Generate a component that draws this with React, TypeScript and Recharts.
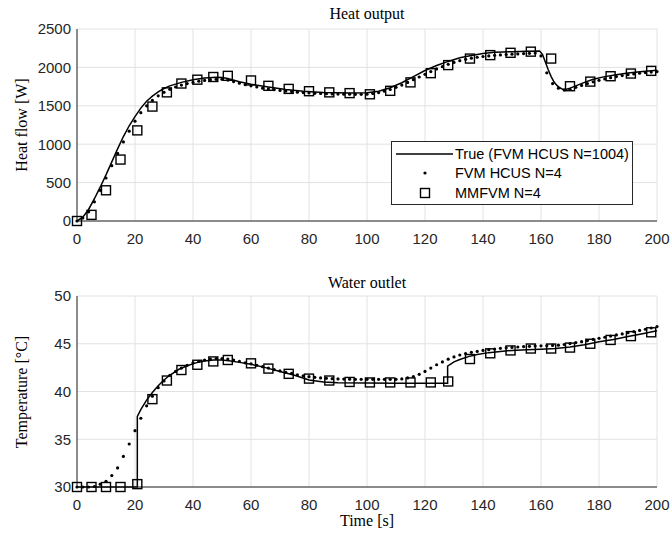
import React from "react";
import { ComposedChart, Line, Scatter, XAxis, YAxis, CartesianGrid } from "recharts";

const timeTicks = [0, 20, 40, 60, 80, 100, 120, 140, 160, 180, 200];
const heatTicks = [0, 500, 1000, 1500, 2000, 2500];
const tempTicks = [30, 35, 40, 45, 50];

// reference solution (FVM HCUS N=1004)
const trueHeatT = [0, 2, 4, 6, 8, 10, 12, 14, 16, 18, 20, 22, 24, 26, 28, 30, 32, 36, 40, 44, 48, 50, 52, 56, 60, 66, 72, 78, 85, 94, 100, 104, 108, 112, 116, 120, 124, 128, 132, 136, 140, 144, 150, 155, 159.5, 160.5, 161.5, 162.5, 163.5, 164.5, 165.5, 166.5, 167.5, 168.5, 170, 172, 175, 178, 182, 186, 190, 195, 200];
const trueHeatV = [0, 50, 150, 290, 440, 600, 770, 940, 1100, 1240, 1360, 1470, 1560, 1625, 1680, 1725, 1760, 1805, 1840, 1862, 1872, 1868, 1855, 1812, 1780, 1745, 1712, 1688, 1672, 1666, 1670, 1690, 1735, 1800, 1880, 1960, 2025, 2078, 2125, 2155, 2180, 2196, 2205, 2210, 2214, 2170, 2070, 1970, 1880, 1810, 1765, 1735, 1715, 1712, 1730, 1760, 1805, 1845, 1880, 1905, 1928, 1948, 1962];

const trueTempT = [0, 20.8, 20.8, 22, 24, 26, 28, 30, 32, 35, 38, 41, 44, 47, 50, 53, 56, 60, 65, 70, 75, 80, 85, 90, 100, 110, 127.8, 127.8, 130, 132, 135, 138, 142, 146, 150, 155, 160, 165, 170, 175, 180, 185, 190, 195, 200];
const trueTempV = [30, 30, 37.4, 38.1, 39.1, 39.9, 40.6, 41.2, 41.7, 42.3, 42.7, 43.0, 43.2, 43.3, 43.3, 43.2, 43.05, 42.85, 42.5, 42.1, 41.7, 41.2, 41.0, 40.92, 40.88, 40.87, 40.87, 42.65, 43.1, 43.35, 43.65, 43.88, 44.07, 44.2, 44.3, 44.38, 44.43, 44.5, 44.65, 44.9, 45.2, 45.45, 45.75, 46.05, 46.35];

// FVM HCUS N=4 (dotted)
const fvmT = [0, 2, 4, 6, 8, 10, 12, 14, 16, 18, 20, 22, 24, 26, 28, 30, 32, 34, 36, 38, 40, 42, 44, 46, 48, 50, 52, 54, 56, 58, 60, 62, 64, 66, 68, 70, 72, 74, 76, 78, 80, 82, 84, 86, 88, 90, 92, 94, 96, 98, 100, 102, 104, 106, 108, 110, 112, 114, 116, 118, 120, 122, 124, 126, 128, 130, 132, 134, 136, 138, 140, 142, 144, 146, 148, 150, 152, 154, 156, 158, 160, 162, 164, 166, 168, 170, 172, 174, 176, 178, 180, 182, 184, 186, 188, 190, 192, 194, 196, 198, 200];
const fvmHeat = [0, 40, 120, 250, 400, 560, 720, 880, 1030, 1170, 1300, 1410, 1500, 1570, 1630, 1675, 1715, 1745, 1770, 1790, 1805, 1820, 1830, 1840, 1845, 1845, 1835, 1815, 1795, 1775, 1760, 1745, 1730, 1720, 1710, 1700, 1692, 1685, 1678, 1672, 1667, 1663, 1660, 1657, 1655, 1653, 1652, 1651, 1650, 1650, 1652, 1660, 1672, 1690, 1712, 1740, 1770, 1805, 1840, 1875, 1910, 1945, 1980, 2010, 2040, 2065, 2088, 2105, 2120, 2132, 2142, 2150, 2157, 2163, 2168, 2172, 2176, 2180, 2183, 2186, 2150, 1930, 1790, 1730, 1705, 1715, 1740, 1765, 1790, 1812, 1832, 1850, 1866, 1880, 1893, 1905, 1915, 1924, 1932, 1939, 1945];
const fvmTemp = [30, 30, 30, 30.05, 30.3, 30.6, 31.2, 32.0, 33.2, 34.5, 35.9, 37.2, 38.5, 39.5, 40.4, 41.1, 41.7, 42.1, 42.45, 42.75, 43.0, 43.15, 43.3, 43.4, 43.45, 43.45, 43.4, 43.3, 43.15, 43.0, 42.9, 42.75, 42.6, 42.45, 42.3, 42.15, 42.0, 41.9, 41.75, 41.65, 41.55, 41.48, 41.42, 41.38, 41.34, 41.32, 41.3, 41.29, 41.28, 41.28, 41.28, 41.27, 41.27, 41.27, 41.27, 41.28, 41.32, 41.42, 41.56, 41.8, 42.1, 42.45, 42.8, 43.1, 43.38, 43.62, 43.82, 43.98, 44.1, 44.2, 44.3, 44.38, 44.45, 44.52, 44.57, 44.62, 44.66, 44.7, 44.73, 44.76, 44.78, 44.8, 44.82, 44.85, 44.92, 45.02, 45.12, 45.22, 45.33, 45.45, 45.57, 45.68, 45.8, 45.92, 46.03, 46.15, 46.27, 46.4, 46.52, 46.65, 46.8];

// MMFVM N=4 (squares)
const mmT = [0, 5, 10, 15, 20.8, 26, 31, 36, 41.5, 47, 52, 60, 66, 73, 80, 87, 94, 101, 108, 115, 122, 128, 135.5, 142.5, 149.5, 156.5, 163.5, 170, 177, 184, 191, 198];
const mmHeat = [0, 80, 400, 800, 1180, 1490, 1675, 1790, 1840, 1875, 1890, 1830, 1760, 1720, 1690, 1675, 1665, 1650, 1695, 1805, 1925, 2030, 2115, 2160, 2190, 2205, 2115, 1755, 1815, 1885, 1920, 1955];
const mmTemp = [30, 30, 30, 30, 30.3, 39.2, 41.15, 42.25, 42.8, 43.15, 43.3, 42.95, 42.4, 41.85, 41.35, 41.15, 41.0, 40.95, 40.95, 40.95, 40.95, 41.05, 43.4, 44.0, 44.3, 44.5, 44.5, 44.6, 45.0, 45.4, 45.8, 46.2];

const zip = (ts: number[], vs: number[]) => ts.map((t, i) => ({ t, v: vs[i] }));

const AXIS = "#262626";
const GRID = "#e2e2e2";
const tickFont = { fontSize: 15, fill: AXIS, fontFamily: "Liberation Sans, Arial, sans-serif" };
const serif = "Liberation Serif, Times New Roman, serif";

const Dot = (p: any) => <circle cx={p.cx} cy={p.cy} r={1.6} fill="#000" />;
const Square = (p: any) => (
  <rect x={p.cx - 4.5} y={p.cy - 4.5} width={9} height={9} fill="none" stroke="#000" strokeWidth={1.4} />
);

function Panel({
  height,
  top,
  bottom,
  domain,
  yTicks,
  line,
  dots,
  squares,
}: {
  height: number;
  top: number;
  bottom: number;
  domain: [number, number];
  yTicks: number[];
  line: { t: number; v: number }[];
  dots: { t: number; v: number }[];
  squares: { t: number; v: number }[];
}) {
  return (
    <ComposedChart width={670} height={height} margin={{ top, right: 13, bottom, left: 17 }}>
      <CartesianGrid stroke={GRID} strokeWidth={1} />
      <XAxis
        dataKey="t"
        type="number"
        domain={[0, 200]}
        ticks={timeTicks}
        height={30}
        tick={tickFont}
        tickLine={false}
        tickSize={6}
        tickMargin={6}
        axisLine={{ stroke: AXIS }}
      />
      <XAxis xAxisId="bm" type="number" domain={[0, 200]} ticks={timeTicks} mirror height={0} tick={false} tickSize={5} tickLine={{ stroke: AXIS }} axisLine={false} />
      <XAxis xAxisId="tm" orientation="top" type="number" domain={[0, 200]} ticks={timeTicks} mirror height={0} tick={false} tickSize={5} tickLine={{ stroke: AXIS }} axisLine={{ stroke: AXIS }} />
      <YAxis
        dataKey="v"
        type="number"
        domain={domain}
        ticks={yTicks}
        width={60}
        tick={tickFont}
        tickLine={false}
        tickSize={3}
        tickMargin={3}
        axisLine={{ stroke: AXIS }}
      />
      <YAxis yAxisId="lm" type="number" domain={domain} ticks={yTicks} mirror width={0} tick={false} tickSize={5} tickLine={{ stroke: AXIS }} axisLine={false} />
      <YAxis yAxisId="rm" orientation="right" type="number" domain={domain} ticks={yTicks} mirror width={0} tick={false} tickSize={5} tickLine={{ stroke: AXIS }} axisLine={{ stroke: AXIS }} />
      <Scatter data={squares} dataKey="v" shape={Square} isAnimationActive={false} />
      <Scatter data={dots} dataKey="v" shape={Dot} isAnimationActive={false} />
      <Line data={line} dataKey="v" type="linear" stroke="#000" strokeWidth={1.5} dot={false} activeDot={false} isAnimationActive={false} />
    </ComposedChart>
  );
}

const textStyle: React.CSSProperties = {
  position: "absolute",
  fontFamily: serif,
  fontSize: 16,
  color: "#000",
  whiteSpace: "nowrap",
  transform: "translate(-50%, -50%)",
  lineHeight: 1,
};

export default function App() {
  return (
    <div style={{ position: "absolute", left: 0, top: 0, width: 670, height: 537, background: "#fff" }}>
      <div style={{ position: "absolute", left: 0, top: 0 }}>
        <Panel height={260} top={29} bottom={9} domain={[0, 2500]} yTicks={heatTicks} line={zip(trueHeatT, trueHeatV)} dots={zip(fvmT, fvmHeat)} squares={zip(mmT, mmHeat)} />
      </div>
      <div style={{ position: "absolute", left: 0, top: 260 }}>
        <Panel height={277} top={36} bottom={20} domain={[30, 50]} yTicks={tempTicks} line={zip(trueTempT, trueTempV)} dots={zip(fvmT, fvmTemp)} squares={zip(mmT, mmTemp)} />
      </div>
      <div style={{ ...textStyle, left: 367, top: 14 }}>Heat output</div>
      <div style={{ ...textStyle, left: 367, top: 283 }}>Water outlet</div>
      <div style={{ ...textStyle, left: 367, top: 521 }}>Time [s]</div>
      <div style={{ ...textStyle, left: 22, top: 125, transform: "translate(-50%, -50%) rotate(-90deg)" }}>Heat flow [W]</div>
      <div style={{ ...textStyle, left: 22, top: 392, transform: "translate(-50%, -50%) rotate(-90deg)" }}>Temperature [°C]</div>
      <svg style={{ position: "absolute", left: 391, top: 141 }} width={243} height={65}>
        <rect x={0.5} y={0.5} width={241} height={63} fill="#fff" stroke={AXIS} strokeWidth={1} />
        <line x1={5} y1={13} x2={62} y2={13} stroke="#000" strokeWidth={1.5} />
        <circle cx={34} cy={32} r={1.6} fill="#000" />
        <rect x={29.5} y={47.5} width={9} height={9} fill="none" stroke="#000" strokeWidth={1.4} />
        <g fontFamily="Liberation Sans, Arial, sans-serif" fontSize={14.5} fill="#000">
          <text x={64} y={18}>True (FVM HCUS N=1004)</text>
          <text x={64} y={37}>FVM HCUS N=4</text>
          <text x={64} y={57}>MMFVM N=4</text>
        </g>
      </svg>
    </div>
  );
}
